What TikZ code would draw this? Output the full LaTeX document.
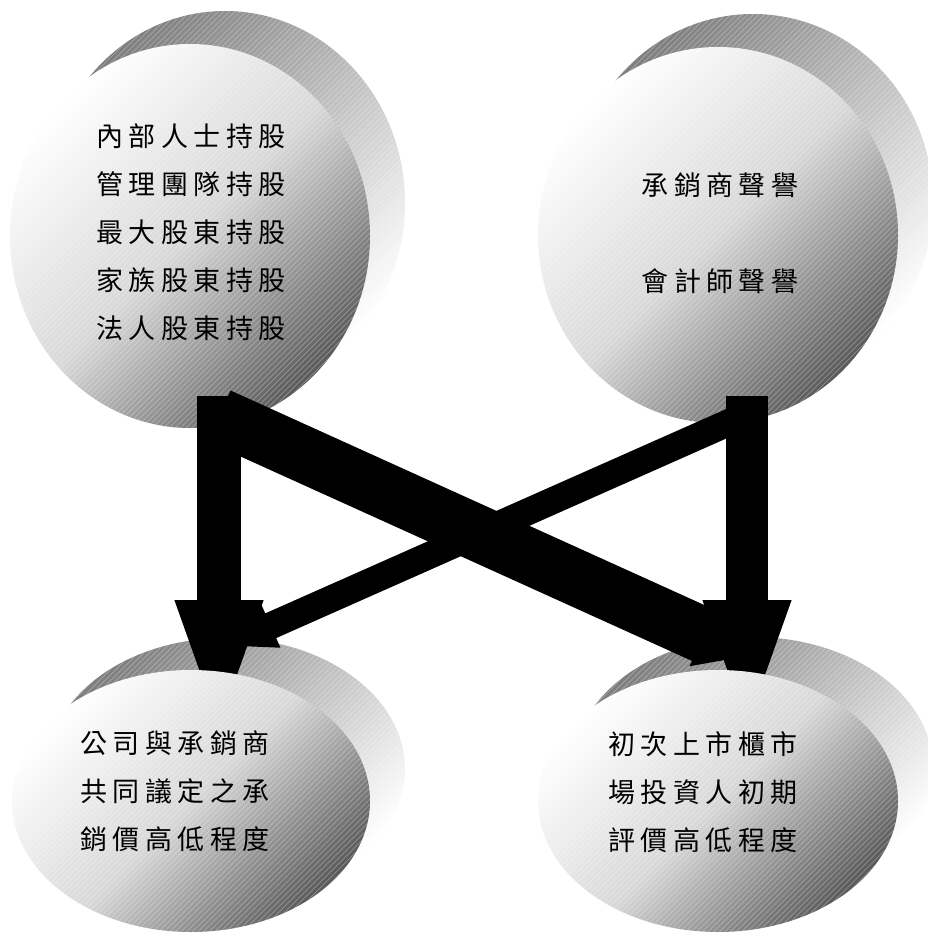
\documentclass[tikz,border=0pt]{standalone}
\usepackage{fontspec}
\newfontfamily\cjk{Noto Sans CJK TC}[LetterSpace=20]
\usetikzlibrary{shapes.geometric,calc,arrows.meta}
\definecolor{fronttop}{HTML}{FFFFFF}
\definecolor{frontmid}{HTML}{D8D8D8}
\definecolor{frontbot}{HTML}{5A5A5A}
\definecolor{backtop}{HTML}{7E7E7E}
\definecolor{backbot}{HTML}{FFFFFF}
\newcommand\hatchdisc[4]{%
  \begin{scope}
    \clip (#1,#2) ellipse [x radius=#3, y radius=#4];
    \foreach \d in {-400,-394.4,...,400}
      \draw[hatchline] (#1+\d-400,#2+400) -- ++(800,-800);
  \end{scope}}
\begin{document}
\begin{tikzpicture}[x=1pt,y=-1pt,
  disc/.style={ellipse, inner sep=0pt, outer sep=0pt, draw=none},
  front/.style={disc, top color=fronttop, bottom color=frontbot, middle color=frontmid, shading angle=45},
  back/.style={disc, top color=backtop, bottom color=backbot, shading angle=45},
  hatchline/.style={draw=white, opacity=0.3, line width=0.7pt},
  label/.style={inner sep=0pt, align=center, font=\cjk\fontsize{27pt}{48pt}\selectfont, text=black},
  bar/.style={draw=black, line cap=butt, line join=miter}
]
\useasboundingbox (0,0) rectangle (927,934);

% top discs
\node[back, minimum width=360pt, minimum height=384pt] (TLb) at (225,203) {};
\hatchdisc{225}{203}{180}{192}
\node[front, minimum width=360pt, minimum height=384pt] (TLf) at (190,236) {};
\hatchdisc{190}{236}{180}{192}
\node[back, minimum width=360pt, minimum height=376pt] (TRb) at (753,202) {};
\hatchdisc{753}{202}{180}{188}
\node[front, minimum width=360pt, minimum height=376pt] (TRf) at (718,235) {};
\hatchdisc{718}{235}{180}{188}

\node[label] (TLt) at (191,232) {內部人士持股\\管理團隊持股\\最大股東持股\\家族股東持股\\法人股東持股};
\node[label] (TRt) at (720,233) {承銷商聲譽\\[48pt]會計師聲譽};

% bottom shadow discs
\node[back, minimum width=358pt, minimum height=262pt] (BLb) at (226,769) {};
\hatchdisc{226}{769}{179}{131}
\node[back, minimum width=360pt, minimum height=262pt] (BRb) at (753,768) {};
\hatchdisc{753}{768}{180}{131}

% connectors
\draw[bar, line width=56pt, -{Triangle[width=64pt,length=50pt]}]
  ($(TLf.south)+(29,-12)$) -- ($(BRb.north)+(-4,19)$);
\draw[bar, line width=27pt, -{Triangle[width=44pt,length=50pt]}]
  ($(TRf.south)+(37,-12)$) -- ($(BLb.north)+(-1,8)$);
\draw[bar, line width=44pt, -{Triangle[width=76pt,length=140pt]}]
  ($(TLf.south)+(29,-32)$) -- ($(BLb.north)+(-7,102)$);
\draw[bar, line width=42pt, -{Triangle[width=76pt,length=140pt]}]
  ($(TRf.south)+(29,-27)$) -- ($(BRb.north)+(-6,103)$);

% bottom discs
\node[front, minimum width=358pt, minimum height=262pt] (BLf) at (191,801) {};
\hatchdisc{191}{801}{179}{131}
\node[front, minimum width=360pt, minimum height=262pt] (BRf) at (718,801) {};
\hatchdisc{718}{801}{180}{131}

\node[label] (BLt) at (175,791) {公司與承銷商\\共同議定之承\\銷價高低程度};
\node[label] (BRt) at (703,792) {初次上市櫃市\\場投資人初期\\評價高低程度};
\end{tikzpicture}
\end{document}
